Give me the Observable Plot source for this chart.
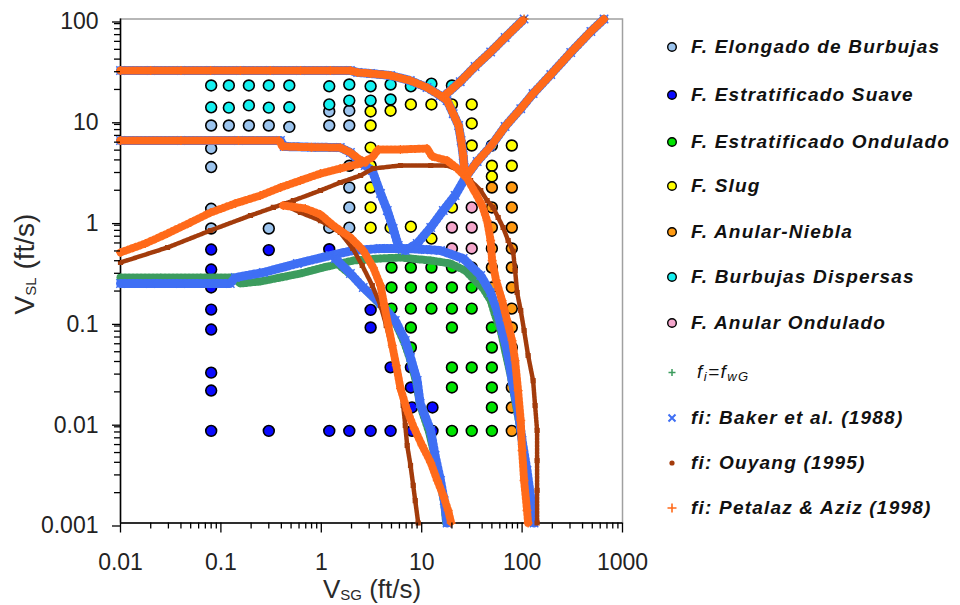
<!DOCTYPE html>
<html>
<head>
<meta charset="utf-8">
<script src="https://cdn.jsdelivr.net/npm/d3@7"></script>
<script src="https://cdn.jsdelivr.net/npm/@observablehq/plot@0.6"></script>
<style>
html,body{margin:0;padding:0;background:#fff;}
#wrap{position:relative;width:960px;height:605px;overflow:hidden;font-family:"Liberation Sans",Arial,Helvetica,sans-serif;}
#wrap > svg{position:absolute;left:0;top:0;}
.lg-mark{position:absolute;width:24px;height:24px;}
.lg-text{position:absolute;font-size:19px;font-weight:bold;font-style:italic;letter-spacing:1.2px;color:#111;white-space:nowrap;line-height:24px;}
.lg-text.reg{font-weight:normal;letter-spacing:1.4px;}
.lg-text sub{font-size:13px;vertical-align:-3px;line-height:0;}
</style>
</head>
<body>
<div id="wrap"></div>
<script>
// ---------- axis ticks ----------
const xTicks = [0.01, 0.1, 1, 10, 100, 1000];
const xTickLabels = ["0.01", "0.1", "1", "10", "100", "1000"];
const yTicks = [0.001, 0.01, 0.1, 1, 10, 100];
const yTickLabels = ["0.001", "0.01", "0.1", "1", "10", "100"];

// ---------- experimental points [VSG, VSL] ----------
const elongado = [
  [0.08,8.78],[0.12,8.78],[0.19,8.78],[0.3,8.78],[0.48,8.5],
  [0.08,5.2],[0.08,3.4],[0.08,1.31],[0.08,0.835],
  [0.3,0.835],
  [1.2,12.1],[1.2,8.78],[1.2,0.85],
  [1.9,12.3],[1.9,8.78],[1.9,3.5],[1.9,2.13],[1.9,1.35],[1.9,0.85]
];
const estratSuave = [
  [0.08,0.516],[0.08,0.327],[0.08,0.217],[0.08,0.131],[0.08,0.083],[0.08,0.031],[0.08,0.0206],[0.08,0.0082],
  [0.3,0.51],[0.3,0.0082],
  [1.2,0.52],[1.2,0.0082],[1.9,0.0082],[3.1,0.0082],[4.9,0.0082],[8.0,0.0082],[12.8,0.0082],
  [3.1,0.13],[3.1,0.087],[4.9,0.035],[7.8,0.035],[7.8,0.0221],[8.0,0.014],[12.8,0.014]
];
const estratOndulado = [
  [5,0.3425],[5,0.217],[5,0.134],
  [7.8,0.3425],[7.8,0.217],[7.8,0.134],[7.8,0.087],[7.8,0.0551],
  [12.5,0.3425],[12.5,0.217],[12.5,0.134],
  [20,0.3425],[20,0.217],[20,0.134],[20,0.087],[20,0.0349],[20,0.0221],[20,0.0082],
  [31.5,0.217],[31.5,0.134],[31.5,0.0349],[31.5,0.0082],
  [50,0.087],[50,0.0551],[50,0.0349],[50,0.0221],[50,0.014],[50,0.0082]
];
const slug = [
  [3.1,12.1],[3.1,8.78],[3.1,5.3],[3.1,3.5],[3.1,2.13],[3.1,1.35],[3.1,0.85],
  [4.9,12.3],[4.9,0.85],
  [7.8,14.2],[7.8,0.87],
  [12.5,14.2],[12.5,0.664],
  [20,14.2],[20,1.35],
  [31.5,14.2],[31.5,9.2],[31.5,5.56],
  [50,5.56],[50,3.5],[50,2.74],
  [79,5.56],[79,3.5]
];
const anularNiebla = [
  [50,2.13],[50,1.35],[50,0.854],[50,0.529],[50,0.3425],[50,0.217],
  [79,2.13],[79,1.35],[79,0.854],[79,0.529],[79,0.3425],[79,0.217],[79,0.134],[79,0.087],
  [79,0.0551],[79,0.0349],[79,0.0221],[79,0.014],[79,0.0082]
];
const burbujasDispersas = [
  [0.08,21.9],[0.12,21.9],[0.19,21.9],[0.3,21.9],[0.48,21.9],
  [0.08,13.3],[0.12,13.2],[0.19,13.9],[0.3,13.2],[0.48,13.3],
  [1.2,21.5],[1.9,22.4],[3.1,21.5],[4.9,22.4],[7.8,21.5],[12.5,22.8],[20,21.9],
  [1.2,14.2],[1.9,15.5],[3.1,15.5],[4.9,15.9]
];
const anularOndulado = [
  [20,0.854],[20,0.529],[31.5,1.35],[31.5,0.854],[31.5,0.529],[31.5,0.3425]
];

const categoryNames = [
  "F. Elongado de Burbujas", "F. Estratificado Suave", "F. Estratificado Ondulado",
  "F. Slug", "F. Anular-Niebla", "F. Burbujas Dispersas", "F. Anular Ondulado"
];
const categoryColors = ["#9cc4ee", "#0a0aff", "#00e400", "#ffff00", "#ff9a12", "#14f0f0", "#f4a6cc"];
const categoryData = [elongado, estratSuave, estratOndulado, slug, anularNiebla, burbujasDispersas, anularOndulado];

// ---------- transition boundaries [VSG, VSL] ----------
const dispersedTop = [
  [0.01,30.8],[0.02,30.8],[0.04,30.8],[0.079,30.8],[0.156,30.8],[0.31,30.8],[0.62,30.8],[1.23,30.8],
  [1.95,30.8],[2.3,29.5],[3.1,28.8],[4.9,27.5],[7.7,24.5],[11.3,20.9],[15.3,17.4],
  [17.9,15.5],[20.6,11.5],[23.3,8.78],[24.7,6.23],[25.9,4.42],[26.5,3.36],[27.7,2.74]
];
const annularUpper = [[16.5,17.0],[24.2,23.9],[34,33.8],[48.6,47.1],[67.8,65.6],[104.7,100]];
const annularLower = [[27.7,2.74],[35.7,3.86],[48.6,5.43],[67.7,8.58],[96.9,12.9],[128.7,18.2],[193,28.1],[305,46.5],[484,75.2],[655,100]];
const middleLine = [[0.01,6.23],[0.04,6.23],[0.15,6.23],[0.38,6.23],[0.41,5.43],[0.8,5.35],[1.545,5.31],[1.95,4.74],[2.33,4.13],[2.74,3.77]];
const bakerMiddle = [
  [0.01,6.23],[0.04,6.23],[0.15,6.23],[0.392,6.23],[0.428,5.43],[0.8,5.35],[1.545,5.31],[1.95,4.74],
  [2.33,3.95],[2.74,3.52],[3.22,3.14],[3.89,1.86],[4.54,1.26],[5.2,0.835],[5.84,0.566],[6.4,0.517]
];
const bakerLowerExt = [[6.86,0.505],[9.02,0.593],[12.3,0.854],[16.4,1.26],[21.5,1.774],[27.7,2.74]];
const bakerA = [
  [0.01,0.2377],[0.0199,0.2377],[0.0396,0.2377],[0.0787,0.2377],[0.124,0.2377],[0.139,0.2726],
  [0.265,0.3056],[0.577,0.3753],[1.23,0.4506],[2.07,0.505],[3.89,0.5287],[6.86,0.5287],[10.9,0.5167],
  [15.4,0.505],[25.9,0.4207],[38.7,0.2854],[48.6,0.1935],[56.4,0.1283],[63.2,0.0812],[70.9,0.0514],
  [79.5,0.0259],[91.2,0.01306],[100,0.00658],[112,0.00332],[123,0.00167],[131.6,0.001]
];
const bakerC = [
  [1.378,0.4207],[1.95,0.2987],[2.617,0.2169],[3.89,0.1505],[5.45,0.1021],[6.86,0.0646],[7.74,0.0439],
  [9.02,0.0259],[9.66,0.01533],[12.3,0.00827],[13.6,0.00467],[15.4,0.00264],[16.75,0.00167],[17.9,0.001]
];
const fwgA = [
  [0.01,0.2726],[0.025,0.2726],[0.0625,0.2726],[0.133,0.2726],[0.156,0.2377],[0.247,0.2488],[0.392,0.2726],
  [0.62,0.2987],[1.047,0.3425],[2.08,0.4019],[3.89,0.4207],[6.15,0.4304],[12.3,0.4019],[19.4,0.3753],
  [27.1,0.3199],[32.5,0.2665],[40.9,0.2121],[48.6,0.1612],[53.9,0.1144],[61.2,0.0812],[67.7,0.0514],
  [77,0.02906],[85.2,0.01642],[96.9,0.00827],[107.1,0.00412],[117.4,0.0021],[126,0.001]
];
const fwgC = [
  [1.476,0.3668],[2.058,0.2789],[2.741,0.2073],[3.954,0.1438],[5.45,0.0975],[6.70,0.0618],[7.74,0.0409],
  [8.82,0.02475],[9.66,0.01465],[11.87,0.0079],[13.6,0.00446],[15.4,0.00252],[16.75,0.0016],[17.5,0.001]
];
const ouyangA = [
  [0.01,0.384],[0.0294,0.541],[0.0787,0.798],[0.197,1.124],[0.333,1.35],[0.438,1.478],[0.527,1.58],
  [0.981,1.99],[1.545,2.388],[2.46,2.802],[3.29,3.288],[6.15,3.52],[12.3,3.52],[17.9,3.52],[24.2,3.14],
  [30.7,2.5],[38.7,1.99],[44.8,1.58],[51.4,1.35],[57.7,1.073],[64.7,0.854],[72.6,0.635],[81.4,0.494],
  [85.2,0.32],[89.2,0.1935],[96.9,0.1283],[104.7,0.0812],[114.8,0.0459],[128.7,0.0259],[134.7,0.01465],
  [141.1,0.00827],[141.1,0.00417],[141.1,0.0021],[141.1,0.001]
];
const ouyangC = [
  [0.438,1.412],[0.62,1.2036],[0.981,1.0],[1.545,0.762],[2.058,0.529],[2.558,0.3585],[3.218,0.2271],
  [3.89,0.1438],[4.435,0.0911],[4.97,0.0577],[5.58,0.0365],[6.15,0.0231],[6.54,0.01465],[6.86,0.00927],
  [7.17,0.00587],[7.74,0.00372],[8.23,0.00236],[8.62,0.00167],[9.23,0.001]
];
const petalazA = [
  [0.01,0.483],[0.0177,0.593],[0.0294,0.745],[0.0497,0.958],[0.0787,1.20],[0.139,1.48],[0.247,1.77],
  [0.392,2.13],[0.62,2.50],[0.981,2.93],[1.545,3.29],[2.46,3.69],[3.22,4.23],[3.69,5.08],[6.15,5.08],
  [11.3,5.19],[12.7,4.33],[17.9,3.95],[22.6,3.29],[28.4,2.62],[34.1,1.90],[40.0,1.41],[44.8,1.0],
  [48.6,0.635],[50.3,0.402],[55.1,0.255],[63.2,0.161],[70.9,0.102],[79.5,0.0646],[85.2,0.0409],
  [91.2,0.0206],[96.9,0.0104],[100,0.00524],[104.7,0.00264],[112,0.00133],[114.8,0.001]
];
const petalazC = [
  [0.4187,1.412],[0.693,1.318],[0.981,1.15],[1.316,0.894],[1.95,0.68],[2.617,0.505],[3.29,0.3425],
  [3.89,0.2271],[4.24,0.1438],[4.64,0.0911],[5.09,0.0577],[5.58,0.0365],[6.15,0.0216],[7.17,0.01306],
  [8.42,0.00866],[10.1,0.00587],[12.3,0.00398],[14.3,0.00264],[16.4,0.00187],[18.35,0.00133],[19.66,0.001]
];

const modelNames = ["fi=fwG", "fi: Baker et al. (1988)", "fi: Ouyang (1995)", "fi: Petalaz & Aziz (1998)"];
const modelColors = ["#3c9c5e", "#3f6ff4", "#a33c0c", "#ff6a1a"];
const modelSegments = [
  [dispersedTop, annularUpper, annularLower, bakerMiddle, bakerLowerExt, fwgA, fwgC],
  [dispersedTop, annularUpper, annularLower, bakerMiddle, bakerLowerExt, bakerA, bakerC],
  [dispersedTop, annularUpper, annularLower, middleLine, ouyangA, ouyangC],
  [dispersedTop, annularUpper, annularLower, middleLine, petalazA, petalazC]
];
// band: wide dashed stroke imitating densely packed markers; core: thin centre line
const modelStyle = [
  {symbol: "plus", r: 2.5, sw: 1.2, band: 8, dash: "1.2,2.8", core: 1.2},
  {symbol: "times", r: 3.9, sw: 1.5, band: 9, dash: "1.4,2.6", core: 1.6},
  {symbol: "square", r: 2.2, sw: 1.3, band: 4.5, dash: "2.5,1", core: 1.6},
  {symbol: "plus", r: 3.0, sw: 1.3, band: 8, dash: "1.2,2.8", core: 1.4}
];

// ---------- build marks ----------
const minorOf = (lo, hi) => {
  const out = [];
  for (let k = lo; k < hi; k *= 10) for (let m = 2; m <= 9; m++) out.push(+(k * m).toPrecision(3));
  return out;
};
const xMinor = minorOf(0.01, 1000);
const yMinor = minorOf(0.001, 100);

const marks = [Plot.frame({stroke: "#a0a0a0", strokeWidth: 1.5})];

categoryData.forEach((arr, i) => {
  marks.push(Plot.dot(arr, {x: d => d[0], y: d => d[1], r: 5.4, fill: categoryColors[i], stroke: "#000", strokeWidth: 1.6}));
});

marks.push(Plot.ruleX([0.01], {stroke: "#000", strokeWidth: 1.5}));
marks.push(Plot.ruleY([0.001], {stroke: "#000", strokeWidth: 1.5}));

modelSegments.forEach((segs, mi) => {
  const rows = segs.flatMap((seg, si) => seg.map(([x, y]) => ({x, y, seg: si})));
  const st = modelStyle[mi];
  const c = modelColors[mi];
  marks.push(Plot.line(rows, {x: "x", y: "y", z: "seg", stroke: c, strokeWidth: st.band, strokeDasharray: st.dash, strokeLinejoin: "round"}));
  marks.push(Plot.line(rows, {x: "x", y: "y", z: "seg", stroke: c, strokeWidth: st.core, strokeLinejoin: "round"}));
  marks.push(Plot.dot(rows, {x: "x", y: "y", symbol: st.symbol, r: st.r, stroke: c, fill: "none", strokeWidth: st.sw}));
});

marks.push(Plot.axisX({ticks: xTicks, tickFormat: d => xTickLabels[xTicks.indexOf(d)], tickSize: 10, tickPadding: 21, fontSize: 23, stroke: "#000", fill: "#222", strokeWidth: 1.3, label: null}));
marks.push(Plot.axisX({ticks: xMinor, tickFormat: () => "", tickSize: 6, stroke: "#000", strokeWidth: 1.3, label: null}));
marks.push(Plot.axisY({ticks: yTicks, tickFormat: d => yTickLabels[yTicks.indexOf(d)], tickSize: 8, tickPadding: 14, fontSize: 23, dy: 3, stroke: "#000", fill: "#222", strokeWidth: 1.3, label: null}));
marks.push(Plot.axisY({ticks: yMinor, tickFormat: () => "", tickSize: 6, stroke: "#000", strokeWidth: 1.3, label: null}));

const chart = Plot.plot({
  width: 960, height: 605,
  marginLeft: 120, marginRight: 338, marginTop: 18.5, marginBottom: 82.5,
  style: {fontFamily: '"Liberation Sans", Arial, sans-serif', background: "white", overflow: "visible"},
  x: {type: "log", domain: [0.01, 1000], label: null},
  y: {type: "log", domain: [0.001, 100], label: null},
  marks
});

const wrap = document.getElementById("wrap");
wrap.appendChild(chart);

// axis titles with subscripts
const svg = d3.select(chart);
const xt = svg.append("text").attr("x", 372).attr("y", 598).attr("text-anchor", "middle")
  .attr("font-size", 26).attr("fill", "#2a2a2a").attr("font-family", '"Liberation Sans", Arial, sans-serif');
xt.append("tspan").text("V");
xt.append("tspan").attr("font-size", 15).attr("dy", 2).text("SG");
xt.append("tspan").attr("dy", -2).text(" (ft/s)");
const yt = svg.append("text").attr("transform", "translate(34,264) rotate(-90)").attr("text-anchor", "middle")
  .attr("font-size", 28).attr("fill", "#2a2a2a").attr("font-family", '"Liberation Sans", Arial, sans-serif');
yt.append("tspan").text("V");
yt.append("tspan").attr("font-size", 15).attr("dy", 2).text("SL");
yt.append("tspan").attr("dy", -2).text(" (ft/s)");

// ---------- legend ----------
const legendRowsY = [47, 95, 142, 186, 232, 277, 323, 372, 418, 463, 508];
const legendItems = [
  ...categoryNames.map((n, i) => ({type: "circle", color: categoryColors[i], label: n})),
  {type: "plus", color: modelColors[0], label: modelNames[0], html: "<i>f<sub>i</sub>=f<sub>wG</sub></i>", reg: true},
  {type: "times", color: modelColors[1], label: modelNames[1]},
  {type: "dot", color: modelColors[2], label: modelNames[2]},
  {type: "plus2", color: modelColors[3], label: modelNames[3]}
];
const ns = "http://www.w3.org/2000/svg";
legendItems.forEach((it, i) => {
  const y = legendRowsY[i];
  const m = document.createElementNS(ns, "svg");
  m.setAttribute("class", "lg-mark");
  m.setAttribute("width", 24); m.setAttribute("height", 24);
  m.style.left = "660px"; m.style.top = (y - 12) + "px";
  let inner = "";
  if (it.type === "circle") inner = `<circle cx="12" cy="12" r="4.3" fill="${it.color}" stroke="#000" stroke-width="1.4"/>`;
  else if (it.type === "plus") inner = `<path d="M8.5,12.5H15.5M12,9V16" stroke="${it.color}" stroke-width="1.5" fill="none"/>`;
  else if (it.type === "plus2") inner = `<path d="M7.5,12H16.5M12,7.5V16.5" stroke="${it.color}" stroke-width="1.6" fill="none"/>`;
  else if (it.type === "times") inner = `<path d="M8.5,8.5L15.5,15.5M8.5,15.5L15.5,8.5" stroke="${it.color}" stroke-width="2" fill="none"/>`;
  else inner = `<circle cx="12" cy="12" r="2.6" fill="${it.color}"/>`;
  m.innerHTML = inner;
  wrap.appendChild(m);
  const t = document.createElement("div");
  t.className = "lg-text" + (it.reg ? " reg" : "");
  t.style.left = (it.reg ? 697 : 691) + "px";
  t.style.top = (y - 12) + "px";
  if (it.html) t.innerHTML = it.html; else t.textContent = it.label;
  wrap.appendChild(t);
});
</script>
</body>
</html>
